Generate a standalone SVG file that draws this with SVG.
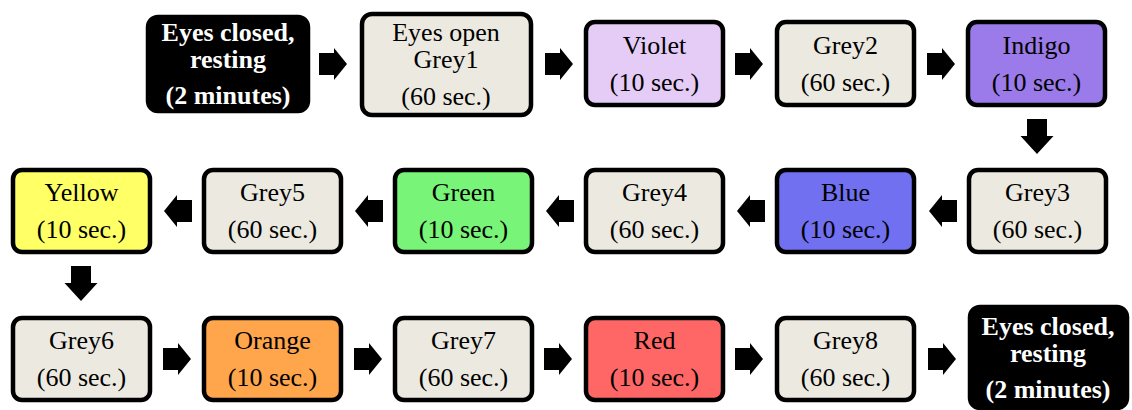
<svg xmlns="http://www.w3.org/2000/svg" xmlns:xlink="http://www.w3.org/1999/xlink" width="1132" height="410" viewBox="0 0 1132 410">
  <style>
    .box { stroke: #000; stroke-width: 4.5; }
    .grey { fill: #ECEAE0; }
    .dark { fill: #000; }
    text { font-family: "Liberation Serif", "Times New Roman", serif; font-size: 26px; text-anchor: middle; fill: #000; }
    .tb { font-weight: bold; fill: #fff; }
    .arrow { fill: #000; }
  </style>
  <defs>
    <!-- block arrow pointing right, origin at tail, centred vertically -->
    <path id="arrH" d="M0,-11 H15 V-16 L28,0 L15,16 V11 H0 Z"/>
    <!-- block arrow pointing down, origin at tail, centred horizontally -->
    <path id="arrV" d="M-10,0 H10 V17 H16.5 L0,35 L-16.5,17 H-10 Z"/>
  </defs>

  <!-- Row 1 -->
  <g id="rest-start">
    <rect class="box dark" x="148" y="17" width="160" height="94" rx="10"/>
    <text class="tb" x="228" y="41">Eyes closed,</text>
    <text class="tb" x="228" y="68">resting</text>
    <text class="tb" x="228" y="104">(2 minutes)</text>
  </g>
  <g id="grey1">
    <rect class="box grey" x="362" y="14" width="169" height="101" rx="10"/>
    <text x="446" y="41">Eyes open</text>
    <text x="446" y="68">Grey1</text>
    <text x="446" y="105">(60 sec.)</text>
  </g>
  <g id="violet">
    <rect class="box" fill="#E5CCF7" x="586" y="22" width="137" height="83" rx="9"/>
    <text x="654.5" y="54">Violet</text>
    <text x="654.5" y="91">(10 sec.)</text>
  </g>
  <g id="grey2">
    <rect class="box grey" x="777" y="22" width="137" height="83" rx="9"/>
    <text x="845.5" y="54">Grey2</text>
    <text x="845.5" y="91">(60 sec.)</text>
  </g>
  <g id="indigo">
    <rect class="box" fill="#9B7BEA" x="968" y="22" width="137" height="83" rx="9"/>
    <text x="1036.5" y="54">Indigo</text>
    <text x="1036.5" y="91">(10 sec.)</text>
  </g>

  <!-- Row 2 -->
  <g id="grey3">
    <rect class="box grey" x="969" y="170" width="137" height="82" rx="9"/>
    <text x="1037.5" y="201">Grey3</text>
    <text x="1037.5" y="238">(60 sec.)</text>
  </g>
  <g id="blue">
    <rect class="box" fill="#7070F0" x="777" y="170" width="137" height="82" rx="9"/>
    <text x="845.5" y="201">Blue</text>
    <text x="845.5" y="238">(10 sec.)</text>
  </g>
  <g id="grey4">
    <rect class="box grey" x="586" y="170" width="137" height="82" rx="9"/>
    <text x="654.5" y="201">Grey4</text>
    <text x="654.5" y="238">(60 sec.)</text>
  </g>
  <g id="green">
    <rect class="box" fill="#78F478" x="395" y="170" width="137" height="82" rx="9"/>
    <text x="463.5" y="201">Green</text>
    <text x="463.5" y="238">(10 sec.)</text>
  </g>
  <g id="grey5">
    <rect class="box grey" x="204" y="170" width="137" height="82" rx="9"/>
    <text x="272.5" y="201">Grey5</text>
    <text x="272.5" y="238">(60 sec.)</text>
  </g>
  <g id="yellow">
    <rect class="box" fill="#FFFF66" x="13" y="170" width="137" height="82" rx="9"/>
    <text x="81.5" y="201">Yellow</text>
    <text x="81.5" y="238">(10 sec.)</text>
  </g>

  <!-- Row 3 -->
  <g id="grey6">
    <rect class="box grey" x="13" y="318" width="137" height="82" rx="9"/>
    <text x="81.5" y="349">Grey6</text>
    <text x="81.5" y="386">(60 sec.)</text>
  </g>
  <g id="orange">
    <rect class="box" fill="#FFA64D" x="204" y="318" width="137" height="82" rx="9"/>
    <text x="272.5" y="349">Orange</text>
    <text x="272.5" y="386">(10 sec.)</text>
  </g>
  <g id="grey7">
    <rect class="box grey" x="395" y="318" width="137" height="82" rx="9"/>
    <text x="463.5" y="349">Grey7</text>
    <text x="463.5" y="386">(60 sec.)</text>
  </g>
  <g id="red">
    <rect class="box" fill="#FF6666" x="586" y="318" width="137" height="82" rx="9"/>
    <text x="654.5" y="349">Red</text>
    <text x="654.5" y="386">(10 sec.)</text>
  </g>
  <g id="grey8">
    <rect class="box grey" x="777" y="318" width="137" height="82" rx="9"/>
    <text x="845.5" y="349">Grey8</text>
    <text x="845.5" y="386">(60 sec.)</text>
  </g>
  <g id="rest-end">
    <rect class="box dark" x="970" y="307" width="157" height="101" rx="10"/>
    <text class="tb" x="1048" y="335">Eyes closed,</text>
    <text class="tb" x="1048" y="362">resting</text>
    <text class="tb" x="1048" y="398">(2 minutes)</text>
  </g>

  <!-- Connectors -->
  <g id="connectors" class="arrow">
    <!-- row 1, left to right -->
    <use xlink:href="#arrH" transform="translate(319,64)"/>
    <use xlink:href="#arrH" transform="translate(545,64)"/>
    <use xlink:href="#arrH" transform="translate(735,64)"/>
    <use xlink:href="#arrH" transform="translate(927,64)"/>
    <!-- down to row 2 -->
    <use xlink:href="#arrV" transform="translate(1037,119)"/>
    <!-- row 2, right to left -->
    <use xlink:href="#arrH" transform="translate(957,211) scale(-1,1)"/>
    <use xlink:href="#arrH" transform="translate(765,211) scale(-1,1)"/>
    <use xlink:href="#arrH" transform="translate(574,211) scale(-1,1)"/>
    <use xlink:href="#arrH" transform="translate(383,211) scale(-1,1)"/>
    <use xlink:href="#arrH" transform="translate(192,211) scale(-1,1)"/>
    <!-- down to row 3 -->
    <use xlink:href="#arrV" transform="translate(81,266)"/>
    <!-- row 3, left to right -->
    <use xlink:href="#arrH" transform="translate(163,359)"/>
    <use xlink:href="#arrH" transform="translate(354,359)"/>
    <use xlink:href="#arrH" transform="translate(544,359)"/>
    <use xlink:href="#arrH" transform="translate(735,359)"/>
    <use xlink:href="#arrH" transform="translate(928,359)"/>
  </g>
</svg>
